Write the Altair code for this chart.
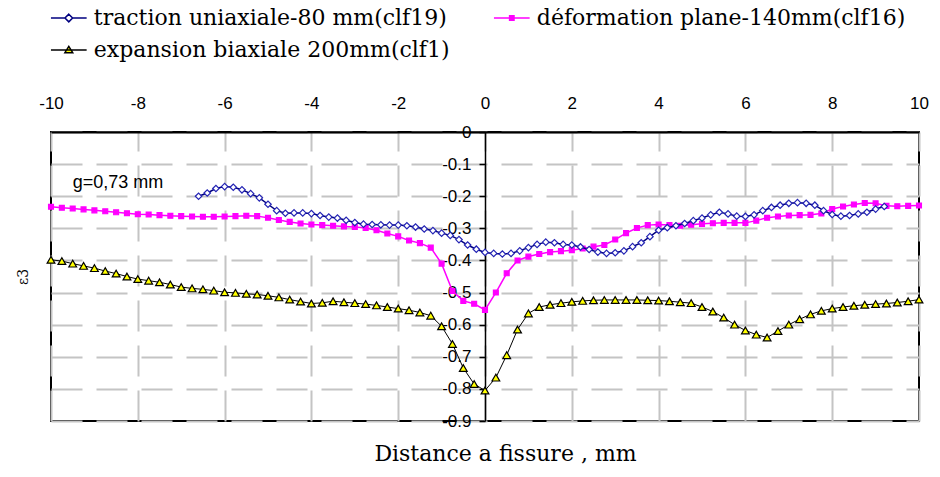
import altair as alt
import pandas as pd

series_names = [
    "traction uniaxiale-80 mm(clf19)",
    "déformation plane-140mm(clf16)",
    "expansion biaxiale 200mm(clf1)",
]

# sampling grid of the read-off points (mm)
traction_x = [round(-6.6 + 0.2 * i, 2) for i in range(80)]
traction_y = [
    -0.200, -0.190, -0.176, -0.170, -0.172, -0.180, -0.192, -0.205, -0.225, -0.245,
    -0.253, -0.252, -0.252, -0.254, -0.260, -0.265, -0.268, -0.275, -0.282, -0.287,
    -0.288, -0.289, -0.290, -0.290, -0.292, -0.296, -0.302, -0.307, -0.315, -0.322,
    -0.335, -0.352, -0.365, -0.375, -0.378, -0.380, -0.378, -0.370, -0.360, -0.350,
    -0.343, -0.345, -0.350, -0.352, -0.358, -0.366, -0.374, -0.378, -0.376, -0.370,
    -0.357, -0.345, -0.326, -0.306, -0.298, -0.292, -0.285, -0.276, -0.268, -0.258,
    -0.250, -0.255, -0.262, -0.263, -0.258, -0.245, -0.235, -0.228, -0.222, -0.220,
    -0.222, -0.228, -0.245, -0.257, -0.262, -0.260, -0.255, -0.250, -0.240, -0.232,
]

plane_x = [round(-10 + 0.25 * i, 2) for i in range(81)]
plane_y = [
    -0.233, -0.236, -0.238, -0.241, -0.244, -0.247, -0.250, -0.253, -0.256, -0.257,
    -0.259, -0.261, -0.262, -0.263, -0.264, -0.264, -0.263, -0.262, -0.261, -0.262,
    -0.267, -0.274, -0.280, -0.285, -0.288, -0.290, -0.292, -0.294, -0.296, -0.299,
    -0.306, -0.316, -0.325, -0.338, -0.346, -0.360, -0.410, -0.495, -0.526, -0.535,
    -0.554, -0.500, -0.440, -0.400, -0.388, -0.380, -0.374, -0.371, -0.368, -0.363,
    -0.357, -0.352, -0.335, -0.315, -0.299, -0.290, -0.288, -0.290, -0.292, -0.289,
    -0.286, -0.284, -0.283, -0.283, -0.283, -0.276, -0.267, -0.263, -0.260, -0.259,
    -0.258, -0.254, -0.240, -0.232, -0.226, -0.221, -0.222, -0.230, -0.231, -0.230,
    -0.229,
]

biax_x = [round(-10 + 0.25 * i, 2) for i in range(81)]
biax_y = [
    -0.398, -0.402, -0.410, -0.417, -0.424, -0.433, -0.441, -0.450, -0.458, -0.463,
    -0.468, -0.475, -0.483, -0.487, -0.490, -0.494, -0.499, -0.501, -0.504, -0.506,
    -0.510, -0.515, -0.522, -0.528, -0.534, -0.532, -0.527, -0.530, -0.533, -0.536,
    -0.540, -0.545, -0.550, -0.555, -0.562, -0.572, -0.605, -0.660, -0.735, -0.785,
    -0.805, -0.765, -0.695, -0.615, -0.565, -0.545, -0.538, -0.533, -0.529, -0.526,
    -0.524, -0.523, -0.523, -0.523, -0.523, -0.524, -0.525, -0.527, -0.530, -0.533,
    -0.545, -0.559, -0.578, -0.600, -0.618, -0.631, -0.640, -0.620, -0.600, -0.583,
    -0.568, -0.557, -0.550, -0.545, -0.541, -0.538, -0.536, -0.534, -0.531, -0.527,
    -0.522,
]

annotation_text = ["g=0,73 mm"]
annotation_x = [-9.5]
annotation_y = [-0.158]

x_ticks = [-10, -8, -6, -4, -2, 0, 2, 4, 6, 8, 10]
y_ticks = [0, -0.1, -0.2, -0.3, -0.4, -0.5, -0.6, -0.7, -0.8, -0.9]

line_colors = ["#000080", "#FF00FF", "#000000"]
marker_strokes = ["#2424B4", "#FF00FF", "#000000"]
marker_fills = ["#FFFFFF", "#FF00FF", "#FFFF00"]

# legend glyphs: line with marker in the middle (custom symbol paths)
legend_paths = [
    "M-2.1,0L-0.45,0M0.45,0L2.1,0M0,-0.45L0.45,0L0,0.45L-0.45,0Z",
    "M-2.1,0L2.1,0M-0.26,-0.26L0.26,-0.26L0.26,0.26L-0.26,0.26Z",
    "M-2.1,0L2.1,0M0,-0.42L0.46,0.32L-0.46,0.32Z",
]

# legend is laid out column by column: traction / expansion, then déformation
legend_order = [0, 2, 1]
legend_domain = [series_names[i] for i in legend_order]

frames = []
for name, xs, ys in [
    (series_names[0], traction_x, traction_y),
    (series_names[1], plane_x, plane_y),
    (series_names[2], biax_x, biax_y),
]:
    frames.append(pd.DataFrame({"x": xs, "y": ys, "series": name}))
df = pd.concat(frames, ignore_index=True)

annot = pd.DataFrame({"x": annotation_x, "y": annotation_y, "t": annotation_text})

W, H = 868, 289

X = alt.X(
    "x:Q",
    scale=alt.Scale(domain=[-10, 10], nice=False, zero=False),
    axis=alt.Axis(
        orient="top",
        values=x_ticks,
        labelExpr="replace(format(datum.value, 'd'), '\u2212', '-')",
        labelFont="Liberation Sans",
        labelFontSize=17,
        labelColor="black",
        labelPadding=20,
        labelFlush=False,
        labelOverlap=False,
        ticks=False,
        tickSize=0,
        domain=True,
        domainColor="black",
        domainWidth=2,
        grid=True,
        gridColor="#c4c4c4",
        gridWidth=2,
        gridDash=[31, 14],
        title="Distance a fissure , mm",
        titleFont="DejaVu Serif",
        titleFontSize=22,
        titleFontWeight="normal",
        titleColor="black",
        titleX=454,
        titleY=321,
        titleAlign="center",
        titleBaseline="middle",
    ),
)

Y = alt.Y(
    "y:Q",
    scale=alt.Scale(domain=[-0.9, 0], nice=False, zero=False),
    axis=alt.Axis(
        orient="left",
        offset=-W / 2,
        values=y_ticks,
        labelExpr="replace(format(datum.value, '.1~f'), '\u2212', '-')",
        labelFont="Liberation Sans",
        labelFontSize=17,
        labelColor="black",
        labelPadding=8,
        labelOverlap=False,
        ticks=True,
        tickSize=6,
        tickColor="black",
        tickWidth=1.5,
        domain=True,
        domainColor="black",
        domainWidth=1.5,
        grid=True,
        gridColor="#c4c4c4",
        gridWidth=2,
        gridDash=[31, 14],
        title="ε3",
        titleFont="DejaVu Serif",
        titleFontSize=14,
        titleFontWeight="normal",
        titleColor="black",
        titleAngle=270,
        titleX=-28 - W / 2,
        titleY=H / 2,
        titleAlign="center",
        titleBaseline="middle",
    ),
)

base = alt.Chart(df)

layers = []
draw_order = [2, 1, 0]
shapes = ["diamond", "square", "triangle-up"]
sizes = [42, 24, 60]
widths = [1.5, 1.5, 1.0]
for i in draw_order:
    sub = base.transform_filter(alt.datum.series == series_names[i])
    layers.append(
        sub.mark_line(color=line_colors[i], strokeWidth=widths[i]).encode(x=X, y=Y)
    )
    layers.append(
        sub.mark_point(
            shape=shapes[i],
            size=sizes[i],
            filled=True,
            fill=marker_fills[i],
            stroke=marker_strokes[i],
            strokeWidth=1.2,
            opacity=1,
        ).encode(x=X, y=Y)
    )

leg = alt.Legend(
    title=None,
    orient="none",
    legendX=6.8,
    legendY=-125,
    columns=2,
    columnPadding=41,
    rowPadding=10,
    padding=0,
    labelFont="DejaVu Serif",
    labelFontSize=22,
    labelColor="black",
    labelOffset=14,
    labelLimit=600,
    symbolSize=289,
    symbolStrokeWidth=1.5,
)

legend_layer = base.transform_filter("false").mark_point(
    filled=True, opacity=1, strokeWidth=1.5
).encode(
    x=X,
    y=Y,
    shape=alt.Shape("series:N", scale=alt.Scale(domain=legend_domain, range=[legend_paths[i] for i in legend_order]), legend=leg),
    stroke=alt.Stroke("series:N", scale=alt.Scale(domain=legend_domain, range=[line_colors[i] for i in legend_order]), legend=leg),
    fill=alt.Fill("series:N", scale=alt.Scale(domain=legend_domain, range=[marker_fills[i] for i in legend_order]), legend=leg),
)

text_layer = alt.Chart(annot).mark_text(
    align="left", baseline="middle", font="Liberation Sans", fontSize=18, color="black"
).encode(x=X, y=Y, text="t:N")

chart = (
    alt.layer(*layers, text_layer, legend_layer)
    .properties(
        width=W,
        height=H,
        autosize=alt.AutoSizeParams(type="none"),
        padding={"left": 43, "top": 124, "right": 11, "bottom": 45},
        background="white",
    )
    .configure_view(stroke="black", strokeWidth=2, fill="white")
)

chart.save("out.html", embed_options={"renderer": "svg", "actions": False})
